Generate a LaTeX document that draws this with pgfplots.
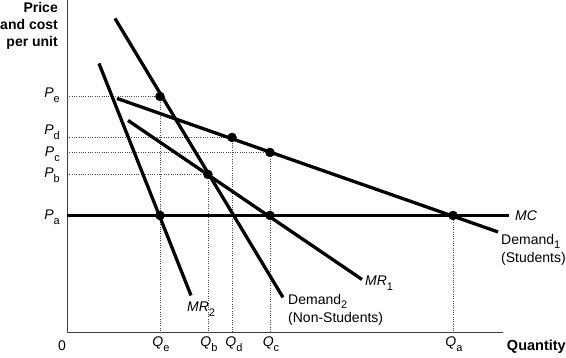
\documentclass[border=0pt]{standalone}
\usepackage{pgfplots}
\pgfplotsset{compat=1.18}
\usepackage{fontspec}
\setmainfont{Liberation Sans}
\newcommand{\sub}[1]{\raisebox{-5pt}{\fontsize{11}{11}\selectfont #1}}
\newcommand{\dsub}[1]{\raisebox{-3.5pt}{\fontsize{11}{11}\selectfont #1}}
\tikzset{lab/.style={inner sep=0pt, font=\fontsize{14}{16.5}\selectfont}}
\begin{document}
\begin{tikzpicture}
\begin{axis}[
 scale only axis, width=566pt, height=357pt,
 xmin=0, xmax=566, ymin=0, ymax=357, y dir=reverse,
 hide axis, clip=false,
]
\path (axis cs:0,0) rectangle (axis cs:566,357);
% dotted guides
\pgfplotsset{guide/.style={black!70, line width=0.7pt, dash pattern=on 0.7pt off 1.6pt}}
\addplot[guide] coordinates {(67,96) (160,96) (160,332)};
\addplot[guide] coordinates {(67,137) (232,137) (232,332)};
\addplot[guide] coordinates {(67,152) (270,152) (270,332)};
\addplot[guide] coordinates {(67,174) (208,174) (208,332)};
\addplot[guide] coordinates {(453,215) (453,332)};
% axes
\addplot[black!75, line width=0.9pt] coordinates {(67,0) (67,332) (503,332)};
% curves
\pgfplotsset{curve/.style={black, line width=3.3pt}}
\addplot[curve] coordinates {(67,215) (509,215)}; % MC
\addplot[curve] coordinates {(117,98) (498,231.5)}; % Demand 1
\addplot[curve] coordinates {(115,18) (283,297)}; % Demand 2
\addplot[curve] coordinates {(99,63) (191,295)}; % MR2
\addplot[curve] coordinates {(128,120) (362,279)}; % MR1
% dots
\addplot[only marks, mark=*, mark size=4.5pt, black] coordinates {
 (160,96) (232,137) (270,152) (208,174) (160,215) (270,215) (453,215)};
% labels
\node[anchor=base east, align=right, font=\bfseries\fontsize{14}{16.7}\selectfont, inner sep=0pt] at (axis cs:58,45.9) {Price\\and cost\\per unit};
\node[lab, anchor=base east] at (axis cs:60,97) {\textit{P}\sub{e}};
\node[lab, anchor=base east] at (axis cs:60,134) {\textit{P}\sub{d}};
\node[lab, anchor=base east] at (axis cs:60,156) {\textit{P}\sub{c}};
\node[lab, anchor=base east] at (axis cs:60,177) {\textit{P}\sub{b}};
\node[lab, anchor=base east] at (axis cs:60,219) {\textit{P}\sub{a}};
\node[lab, anchor=base] at (axis cs:62,350) {0};
\node[lab, anchor=base] at (axis cs:161,346.5) {\textit{Q}\sub{e}};
\node[lab, anchor=base] at (axis cs:209,346.5) {\textit{Q}\sub{b}};
\node[lab, anchor=base] at (axis cs:234,346.5) {\textit{Q}\sub{d}};
\node[lab, anchor=base] at (axis cs:271,346.5) {\textit{Q}\sub{c}};
\node[lab, anchor=base] at (axis cs:454,346.5) {\textit{Q}\sub{a}};
\node[anchor=base east, inner sep=0pt, font=\bfseries\fontsize{14.5}{15}\selectfont] at (axis cs:566,350) {Quantity};
\node[lab, anchor=base west] at (axis cs:515,220) {\textit{MC}};
\node[lab, anchor=base west, align=left, font=\fontsize{14}{17.5}\selectfont] at (axis cs:501,262) {Demand\dsub{1}\\(Students)};
\node[lab, anchor=base west, align=left, font=\fontsize{14}{17.5}\selectfont] at (axis cs:288,322) {Demand\dsub{2}\\(Non-Students)};
\node[lab, anchor=base west] at (axis cs:365,285) {\textit{MR}\sub{1}};
\node[lab, anchor=base west] at (axis cs:187,311) {\textit{MR}\sub{2}};
\end{axis}
\end{tikzpicture}
\end{document}
